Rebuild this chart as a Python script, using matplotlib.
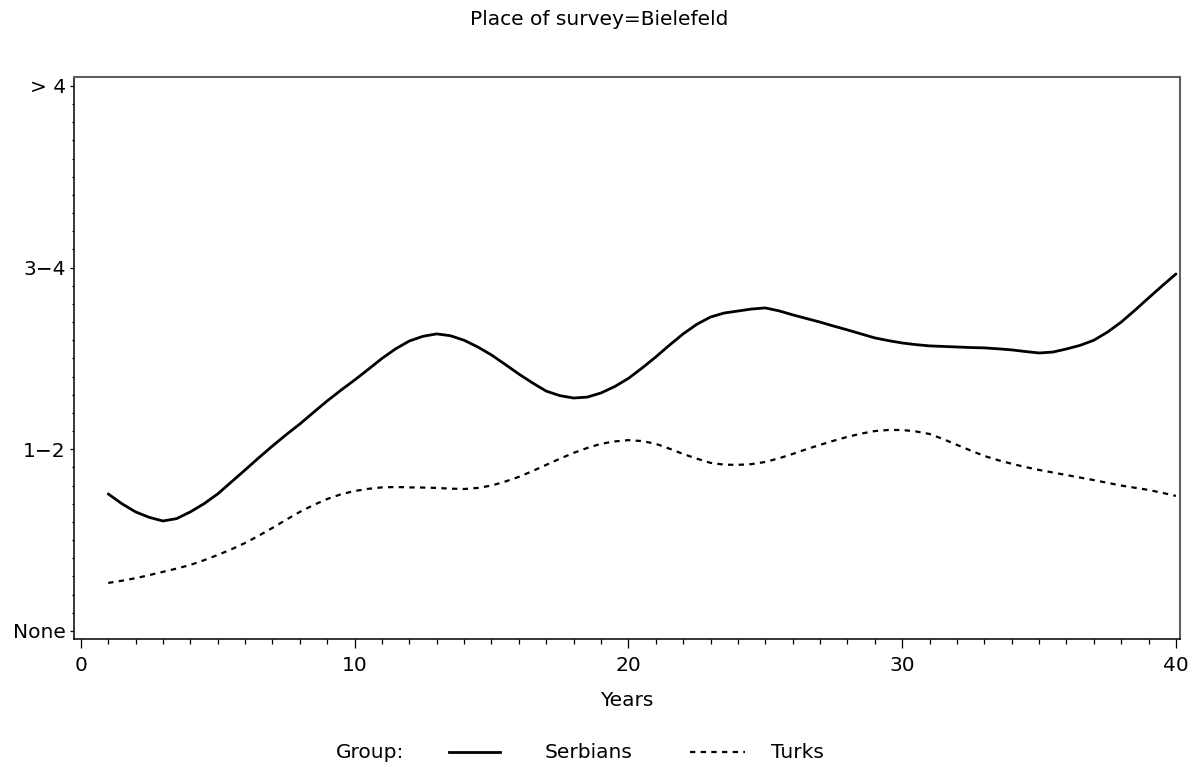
import numpy as np
import matplotlib.pyplot as plt
from matplotlib.lines import Line2D
from matplotlib.ticker import MultipleLocator

plt.rcParams['font.family'] = ['DejaVu Sans']

# smoothed group trends, every half year since arrival
years = np.arange(1, 40.5, 0.5)
serbians = [0.754, 0.700, 0.655, 0.625, 0.605, 0.618, 0.655, 0.700, 0.754, 0.820,
            0.886, 0.953, 1.018, 1.080, 1.139, 1.203, 1.266, 1.325, 1.381, 1.440,
            1.500, 1.553, 1.596, 1.622, 1.635, 1.625, 1.600, 1.563, 1.519, 1.467,
            1.414, 1.365, 1.320, 1.295, 1.282, 1.287, 1.310, 1.345, 1.390, 1.447,
            1.508, 1.573, 1.635, 1.688, 1.728, 1.750, 1.761, 1.772, 1.778, 1.762,
            1.740, 1.720, 1.700, 1.678, 1.657, 1.635, 1.613, 1.598, 1.585, 1.576,
            1.569, 1.566, 1.563, 1.560, 1.558, 1.553, 1.547, 1.538, 1.530, 1.535,
            1.552, 1.572, 1.600, 1.645, 1.700, 1.765, 1.833, 1.900, 1.965]
turks = [0.264, 0.276, 0.290, 0.307, 0.325, 0.343, 0.363, 0.389, 0.418, 0.449,
         0.484, 0.524, 0.567, 0.612, 0.655, 0.693, 0.726, 0.752, 0.770, 0.782,
         0.790, 0.792, 0.790, 0.789, 0.787, 0.783, 0.781, 0.787, 0.800, 0.822,
         0.848, 0.880, 0.914, 0.948, 0.980, 1.007, 1.030, 1.043, 1.050, 1.045,
         1.030, 1.003, 0.974, 0.948, 0.925, 0.915, 0.914, 0.918, 0.930, 0.950,
         0.974, 1.000, 1.024, 1.047, 1.068, 1.086, 1.100, 1.106, 1.106, 1.098,
         1.084, 1.056, 1.024, 0.993, 0.963, 0.940, 0.920, 0.902, 0.886, 0.872,
         0.858, 0.844, 0.830, 0.815, 0.800, 0.788, 0.776, 0.760, 0.743]

y_ticks = [0, 1, 2, 3]
y_labels = ['None', '1\u22122', '3\u22124', '> 4']
x_ticks = [0, 10, 20, 30, 40]

fs = 14.5
fig = plt.figure(figsize=(11.99, 7.69), dpi=100)
ax = fig.add_axes([0.0617, 0.169, 0.9225, 0.731])

ax.plot(years, serbians, color='black', lw=2.0, solid_capstyle='round',
        solid_joinstyle='round')
ax.plot(years, turks, color='black', lw=1.6, linestyle=(0, (2.4, 2.4)))

ax.set_xlim(-0.25, 40.15)
ax.set_ylim(-0.045, 3.05)
ax.set_xticks(x_ticks)
ax.set_yticks(y_ticks)
ax.set_yticklabels(y_labels)
ax.xaxis.set_minor_locator(MultipleLocator(1))
ax.yaxis.set_minor_locator(MultipleLocator(0.1))

ax.tick_params(axis='x', which='major', length=6.5, width=0.9, pad=6, labelsize=fs)
ax.tick_params(axis='x', which='minor', length=3.8, width=0.9)
ax.tick_params(axis='y', which='major', length=3, width=0.9, pad=3, labelsize=fs)
ax.tick_params(axis='y', which='minor', length=1.6, width=0.9)

for side in ['left', 'bottom']:
    ax.spines[side].set_linewidth(1.1)
for side in ['top', 'right']:
    ax.spines[side].set_color('#606060')
    ax.spines[side].set_linewidth(1.5)

ax.set_xlabel('Years', fontsize=fs, labelpad=11)
fig.suptitle('Place of survey=Bielefeld', fontsize=fs, y=0.987)

# legend row under the axis title
ly = 1 - 752 / 769
fig.text(404 / 1199, ly, 'Group:', fontsize=fs, ha='right', va='center')
fig.add_artist(Line2D([449 / 1199, 500 / 1199], [ly, ly], color='black', lw=2.0))
fig.text(545 / 1199, ly, 'Serbians', fontsize=fs, ha='left', va='center')
fig.add_artist(Line2D([690 / 1199, 745 / 1199], [ly, ly], color='black', lw=1.6,
                      linestyle=(0, (2.4, 2.4))))
fig.text(771 / 1199, ly, 'Turks', fontsize=fs, ha='left', va='center')

fig.savefig('out.png', dpi=100)
